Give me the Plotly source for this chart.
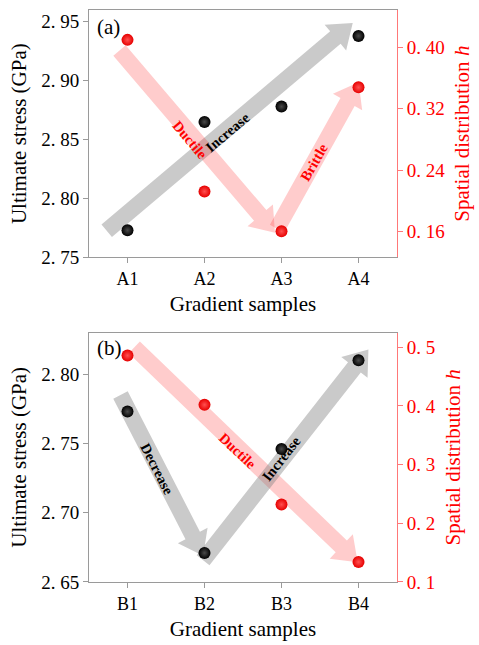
import math
import plotly.graph_objects as go

# ---------------- data ----------------
samples_a = ["A1", "A2", "A3", "A4"]
samples_b = ["B1", "B2", "B3", "B4"]
stress_a = [2.773, 2.865, 2.878, 2.938]
h_a = [0.410, 0.212, 0.160, 0.348]
stress_b = [2.773, 2.671, 2.746, 2.810]
h_b = [0.486, 0.402, 0.232, 0.134]

yl_ticks_a = [2.75, 2.80, 2.85, 2.90, 2.95]
yr_ticks_a = [0.16, 0.24, 0.32, 0.40]
yl_ticks_b = [2.65, 2.70, 2.75, 2.80]
yr_ticks_b = [0.1, 0.2, 0.3, 0.4, 0.5]

# ---------------- layout geometry ----------------
W, H = 479, 645
ML, MR, MT, MB = 89, 77, 9, 58
PW, PH = W - ML - MR, H - MT - MB
dom_a = [0.5675, 1.0]
dom_b = [0.0, 0.436]
xr = [0.5, 4.5]
yla, yra = [2.75, 2.96], [0.126, 0.449]
ylb, yrb = [2.65, 2.83], [0.10, 0.525]

xpos = [1, 2, 3, 4]


def fmt(v, nd):
    s = f"{v:.{nd}f}"
    return s.replace(".", ". ")


# arrows defined in data coordinates (x position, left-axis value)
arrows_a = [
    dict(p0=(0.73, 2.7727), p1=(3.925, 2.949), col="rgba(128,128,128,0.42)"),
    dict(p0=(0.896, 2.9256), p1=(2.915, 2.771), col="rgba(255,40,40,0.24)"),
    dict(p0=(2.941, 2.7744), p1=(4.002, 2.8987), col="rgba(255,40,40,0.24)"),
]
arrows_b = [
    dict(p0=(0.909, 2.785), p1=(1.982, 2.669), col="rgba(128,128,128,0.42)"),
    dict(p0=(1.088, 2.8193), p1=(3.989, 2.6643), col="rgba(255,40,40,0.24)"),
    dict(p0=(1.982, 2.6657), p1=(4.129, 2.8178), col="rgba(128,128,128,0.42)"),
]
labels_a = [
    ("Increase", 2.302, 2.8567, -40, "black"),
    ("Ductile", 1.816, 2.850, 50, "red"),
    ("Brittle", 3.427, 2.8306, -60, "red"),
]
labels_b = [
    ("Decrease", 1.382, 2.7314, 63, "black"),
    ("Ductile", 2.43, 2.7443, 43, "red"),
    ("Increase", 3.005, 2.7393, -52, "black"),
]


def make_arrow(p0, p1, yrng, dom, shaft=16.5, head=34, hlen=23):
    top = MT + (1 - dom[1]) * PH
    bot = MT + (1 - dom[0]) * PH

    def d2p(x, y):
        px = ML + (x - xr[0]) / (xr[1] - xr[0]) * PW
        py = bot - (y - yrng[0]) / (yrng[1] - yrng[0]) * (bot - top)
        return px, py

    def p2d(px, py):
        x = xr[0] + (px - ML) / PW * (xr[1] - xr[0])
        y = yrng[0] + (bot - py) / (bot - top) * (yrng[1] - yrng[0])
        return x, y

    ax, ay = d2p(*p0)
    bx, by = d2p(*p1)
    L = math.hypot(bx - ax, by - ay)
    ux, uy = (bx - ax) / L, (by - ay) / L
    nx, ny = -uy, ux
    hx, hy = bx - ux * hlen, by - uy * hlen
    pts = [
        (ax + nx * shaft / 2, ay + ny * shaft / 2),
        (hx + nx * shaft / 2, hy + ny * shaft / 2),
        (hx + nx * head / 2, hy + ny * head / 2),
        (bx, by),
        (hx - nx * head / 2, hy - ny * head / 2),
        (hx - nx * shaft / 2, hy - ny * shaft / 2),
        (ax - nx * shaft / 2, ay - ny * shaft / 2),
    ]
    dpts = [p2d(*p) for p in pts]
    return "M " + " L ".join(f"{x:.5f},{y:.5f}" for x, y in dpts) + " Z"


fig = go.Figure()

black_marker = dict(size=12, color="black", gradient=dict(type="radial", color="#4a4a4a"),
                    line=dict(width=0))
red_marker = dict(size=12, color="rgb(230,0,0)", gradient=dict(type="radial", color="rgb(255,80,80)"),
                  line=dict(width=0))

fig.add_trace(go.Scatter(x=xpos, y=stress_a, mode="markers", marker=black_marker,
                         xaxis="x", yaxis="y", showlegend=False))
fig.add_trace(go.Scatter(x=xpos, y=h_a, mode="markers", marker=red_marker,
                         xaxis="x", yaxis="y2", showlegend=False))
fig.add_trace(go.Scatter(x=xpos, y=stress_b, mode="markers", marker=black_marker,
                         xaxis="x2", yaxis="y3", showlegend=False))
fig.add_trace(go.Scatter(x=xpos, y=h_b, mode="markers", marker=red_marker,
                         xaxis="x2", yaxis="y4", showlegend=False))

shapes = []
for a in arrows_a:
    shapes.append(dict(type="path", path=make_arrow(a["p0"], a["p1"], yla, dom_a),
                       xref="x", yref="y", fillcolor=a["col"], line=dict(width=0), layer="below"))
for a in arrows_b:
    shapes.append(dict(type="path", path=make_arrow(a["p0"], a["p1"], ylb, dom_b),
                       xref="x2", yref="y3", fillcolor=a["col"], line=dict(width=0), layer="below"))

FONT = "Liberation Serif, Times New Roman, DejaVu Serif, serif"

annotations = []
for t, x, y, ang, c in labels_a:
    annotations.append(dict(text=f"<b>{t}</b>", x=x, y=y, xref="x", yref="y", showarrow=False,
                            textangle=ang, font=dict(family=FONT, size=14.5, color=c)))
for t, x, y, ang, c in labels_b:
    annotations.append(dict(text=f"<b>{t}</b>", x=x, y=y, xref="x2", yref="y3", showarrow=False,
                            textangle=ang, font=dict(family=FONT, size=14.5, color=c)))
annotations.append(dict(text="(a)", x=0.02, y=0.995, xref="paper", yref="paper", xanchor="left",
                        yanchor="top", showarrow=False,
                        font=dict(family=FONT, size=21, color="black")))
annotations.append(dict(text="(b)", x=0.02, y=dom_b[1] - 0.002, xref="paper", yref="paper",
                        xanchor="left", yanchor="top", showarrow=False,
                        font=dict(family=FONT, size=21, color="black")))

axis_gray = "#9a9a9a"
tickfont = dict(family=FONT, size=19, color="black")
redtickfont = dict(family=FONT, size=19, color="red")
titlefont = dict(family=FONT, size=21, color="black")
redtitlefont = dict(family=FONT, size=21, color="red")


def xaxis_cfg(dom_anchor, labels):
    return dict(range=xr, tickvals=xpos, ticktext=labels, anchor=dom_anchor, domain=[0, 1],
                showline=True, linecolor=axis_gray, linewidth=1, mirror=True,
                ticks="outside", ticklen=5, tickcolor=axis_gray, showgrid=False, zeroline=False,
                tickfont=dict(family=FONT, size=18, color="black"),
                title=dict(text="Gradient samples", font=titlefont, standoff=8))


def yl_cfg(dom, rng, ticks, nd):
    return dict(domain=dom, range=rng, tickvals=ticks, ticktext=[fmt(v, nd) for v in ticks],
                showline=True, linecolor=axis_gray, linewidth=1, ticks="outside", ticklen=5,
                tickcolor=axis_gray, showgrid=False, zeroline=False, tickfont=tickfont,
                title=dict(text="Ultimate stress (GPa)", font=titlefont, standoff=8))


def yr_cfg(over, anchor, rng, ticks, nd):
    return dict(overlaying=over, anchor=anchor, side="right", range=rng, tickvals=ticks,
                ticktext=[fmt(v, nd) for v in ticks], showline=True,
                linecolor="rgb(255,120,120)", linewidth=1, ticks="outside", ticklen=5,
                tickcolor="rgb(255,120,120)", showgrid=False, zeroline=False, tickfont=redtickfont,
                title=dict(text="Spatial distribution <i>h</i>", font=redtitlefont, standoff=10))


fig.update_layout(
    width=W, height=H,
    margin=dict(l=ML, r=MR, t=MT, b=MB),
    paper_bgcolor="white", plot_bgcolor="white",
    font=dict(family=FONT),
    xaxis=xaxis_cfg("y", samples_a),
    yaxis=yl_cfg(dom_a, yla, yl_ticks_a, 2),
    yaxis2=yr_cfg("y", "x", yra, yr_ticks_a, 2),
    xaxis2=xaxis_cfg("y3", samples_b),
    yaxis3=yl_cfg(dom_b, ylb, yl_ticks_b, 2),
    yaxis4=yr_cfg("y3", "x2", yrb, yr_ticks_b, 1),
    shapes=shapes,
    annotations=annotations,
)

fig.write_html("out.html")
